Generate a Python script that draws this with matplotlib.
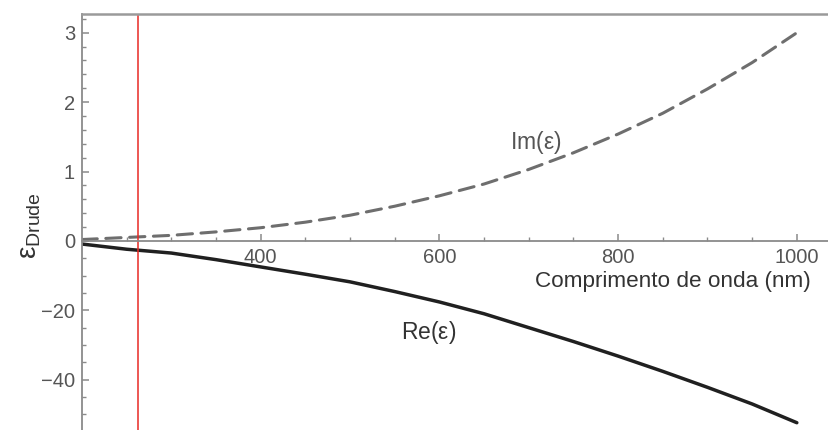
import numpy as np
import matplotlib
matplotlib.use("Agg")
from matplotlib import pyplot as plt
from matplotlib.ticker import FixedLocator

plt.rcParams['font.family'] = ['Liberation Sans', 'DejaVu Sans']

# wavelength (nm) and Drude permittivity
wavelength = [200, 250, 300, 350, 400, 450, 500, 550, 600, 650, 700, 750, 800, 850, 900, 950, 1000]
re_eps = [-0.9, -2.4, -3.5, -5.4, -7.5, -9.6, -11.8, -14.6, -17.6, -21.0, -25.0, -29.0, -33.2, -37.6, -42.2, -47.0, -52.4]
im_eps = [0.02, 0.05, 0.08, 0.13, 0.19, 0.27, 0.37, 0.50, 0.65, 0.82, 1.03, 1.27, 1.54, 1.84, 2.19, 2.57, 3.0]
marker_wl = 263

y_major = [-40, -20, 0, 1, 2, 3]
y_labels = ["\u221240", "\u221220", "0", "1", "2", "3"]
x_major = [400, 600, 800, 1000]

# positive part of the axis is stretched 20x (two scales sharing zero)
K = 20.0
def fwd(y):
    y = np.asarray(y, dtype=float)
    return np.where(y > 0, y * K, y)
def inv(y):
    y = np.asarray(y, dtype=float)
    return np.where(y > 0, y / K, y)

fig = plt.figure(figsize=(8.29, 4.30), dpi=100)
ax = fig.add_axes([82/829, 0.0, 1 - 82/829, (430 - 14)/430])
ax.set_yscale('function', functions=(fwd, inv))

ax.plot(wavelength, re_eps, color='#202020', lw=2.5, solid_capstyle='round')
l, = ax.plot(wavelength, im_eps, color='#6e6e6e', lw=2.2, dash_capstyle='round')
l.set_dashes((5, 2.8))
ax.axvline(marker_wl, color='#e82a25', lw=1.1)

ax.set_xlim(200, 1036)
ax.set_ylim(-54.5, 3.27)

gray = '#8a8a8a'
ax.spines['right'].set_visible(False)
ax.spines['bottom'].set_position(('data', 0))
ax.spines['bottom'].set_color(gray)
ax.spines['bottom'].set_linewidth(1.3)
ax.spines['left'].set_color(gray)
ax.spines['left'].set_linewidth(1.3)
ax.spines['top'].set_color('#9a9a9a')
ax.spines['top'].set_linewidth(1.8)

ax.xaxis.set_major_locator(FixedLocator(x_major))
ax.xaxis.set_minor_locator(FixedLocator(np.arange(250, 1036, 50)))
ax.set_xticklabels([str(v) for v in x_major])
ax.yaxis.set_major_locator(FixedLocator(y_major))
ax.set_yticklabels(y_labels)
minor_y = list(np.arange(-55, 0, 5)) + list(np.arange(0.2, 3.3, 0.2))
ax.yaxis.set_minor_locator(FixedLocator(minor_y))

ax.tick_params(axis='both', which='major', direction='in', length=5, width=1.1,
               color=gray, labelsize=14.5, labelcolor='#555555')
ax.tick_params(axis='both', which='minor', direction='in', length=3, width=1.0, color=gray)
ax.tick_params(axis='x', pad=5)
ax.tick_params(axis='y', pad=5)

ax.text(679, 1.42, r'Im($\mathregular{\varepsilon}$)', fontsize=16.5, color='#555555',
        va='center', ha='left')
ax.text(557, -26.5, r'Re($\mathregular{\varepsilon}$)', fontsize=16.5, color='#333333',
        va='center', ha='left')
ax.text(0.975, 0.356, 'Comprimento de onda (nm)', transform=ax.transAxes,
        fontsize=16.2, color='#333333', ha='right', va='center')
fig.text(0.036, 0.475, r'$\mathregular{\varepsilon_{Drude}}$', rotation=90,
         fontsize=20, color='#333333', ha='center', va='center')

fig.savefig('out.png', dpi=100)
